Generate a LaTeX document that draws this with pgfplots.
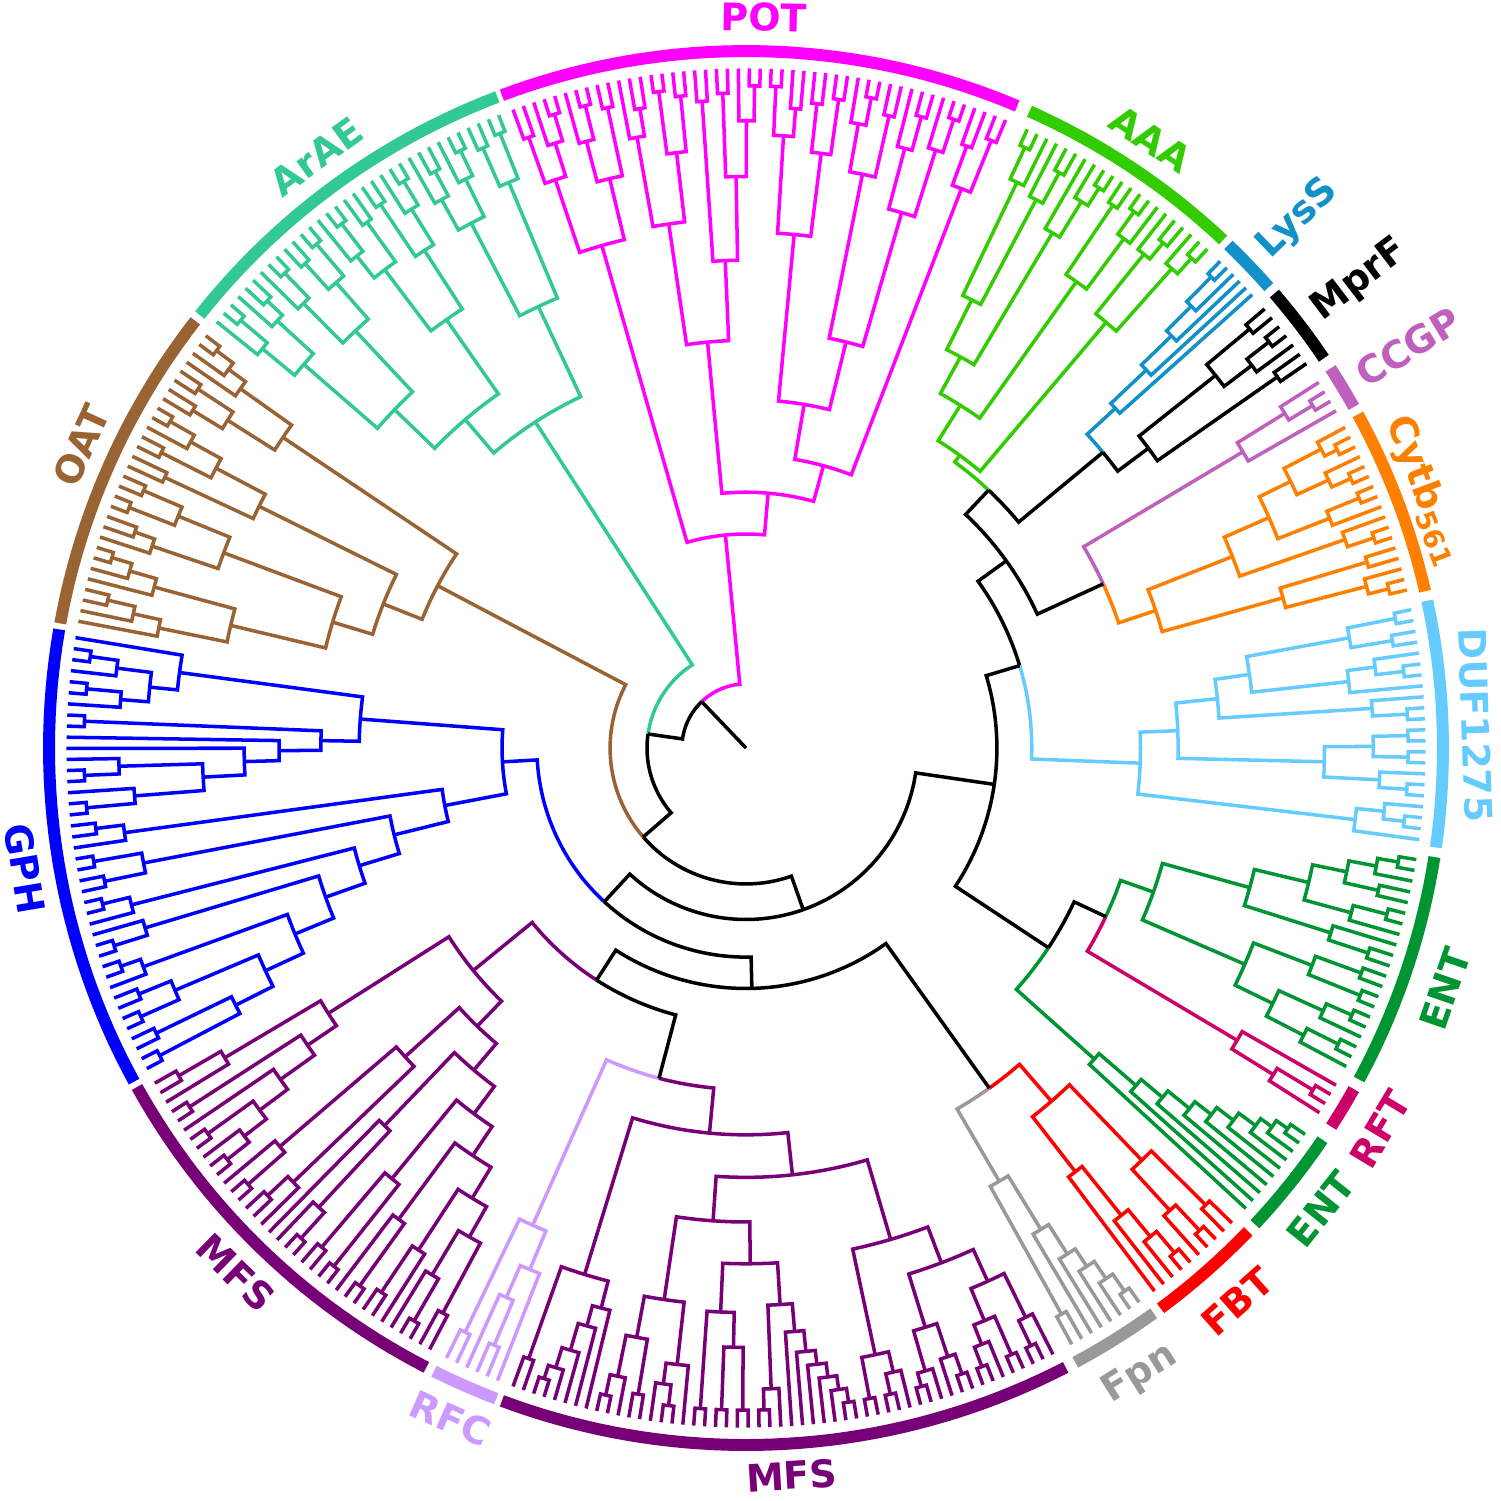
\documentclass[border=0pt]{standalone}
\usepackage{pgfplots}
\usepackage{pgfplotstable}
\pgfplotsset{compat=1.18}
\usepgfplotslibrary{polar}
\usepackage{fontspec}
\setmainfont{DejaVu Sans}

\definecolor{cPOT}{RGB}{255,0,255}
\definecolor{cArAE}{RGB}{51,201,150}
\definecolor{cOAT}{RGB}{153,99,51}
\definecolor{cGPH}{RGB}{0,0,255}
\definecolor{cMFS}{RGB}{119,0,119}
\definecolor{cRFC}{RGB}{204,153,255}
\definecolor{cFpn}{RGB}{153,153,153}
\definecolor{cFBT}{RGB}{255,0,0}
\definecolor{cENT}{RGB}{0,148,51}
\definecolor{cRFT}{RGB}{204,0,102}
\definecolor{cDUF}{RGB}{102,204,255}
\definecolor{cCyt}{RGB}{255,128,0}
\definecolor{cCCGP}{RGB}{191,96,191}
\definecolor{cMprF}{RGB}{0,0,0}
\definecolor{cLys}{RGB}{17,145,200}
\definecolor{cAAA}{RGB}{51,204,0}

% ---- tree data: each row = push n leaves, then join the top k items at radius r
\pgfplotstableread{
n k r
2 2 0.94
2 2 0.92
0 2 0.86
2 2 0.95
1 2 0.90
2 2 0.94
1 2 0.89
0 2 0.80
2 2 0.93
2 2 0.95
1 2 0.91
0 2 0.84
0 2 0.60
2 2 0.94
2 2 0.93
0 2 0.86
2 2 0.92
2 2 0.95
0 2 0.88
0 2 0.74
0 2 0.50
0 2 0.42
2 2 0.95
1 2 0.90
2 2 0.94
0 2 0.82
2 2 0.93
0 2 0.70
2 2 0.94
2 2 0.95
0 2 0.86
2 2 0.93
1 2 0.89
0 2 0.76
0 2 0.585
0 2 0.367
2 2 0.94
2 2 0.95
1 2 0.90
0 2 0.84
2 2 0.95
1 2 0.91
2 2 0.93
0 2 0.86
0 2 0.75
0 2 0.307
}\tPOT
\pgfplotstableread{
n k r
2 2 0.95
2 2 0.94
0 2 0.88
2 2 0.95
1 2 0.91
2 2 0.94
1 2 0.90
0 2 0.85
0 2 0.70
2 2 0.95
1 2 0.91
2 2 0.94
0 2 0.85
2 2 0.93
2 2 0.95
1 2 0.90
0 2 0.86
0 2 0.75
2 2 0.95
2 2 0.94
0 2 0.89
2 2 0.95
1 2 0.90
0 2 0.82
2 2 0.94
1 2 0.91
2 2 0.95
1 2 0.90
0 2 0.84
0 2 0.70
0 2 0.62
0 2 0.557
}\tArAE
\pgfplotstableread{
n k r
2 2 0.95
1 2 0.92
1 2 0.89
2 2 0.94
2 2 0.93
0 2 0.88
0 2 0.80
2 2 0.95
1 2 0.91
2 2 0.94
0 2 0.86
2 2 0.92
0 2 0.78
2 2 0.94
2 2 0.95
0 2 0.88
2 2 0.93
1 2 0.90
0 2 0.80
2 2 0.95
1 2 0.92
1 2 0.88
2 2 0.94
1 2 0.90
1 2 0.86
0 2 0.76
0 2 0.62
0 2 0.56
0 2 0.50
}\tOAT
\pgfplotstableread{
n k r
1 0 0
2 2 0.95
1 2 0.91
2 2 0.95
1 2 0.90
0 2 0.86
0 2 0.82
2 2 0.95
3 0 0
2 2 0.95
0 2 0.90
1 0 0
2 2 0.95
0 2 0.88
0 2 0.78
0 2 0.72
0 2 0.67
0 2 0.61
0 2 0.555
2 2 0.94
1 2 0.90
2 2 0.95
2 2 0.94
0 2 0.88
2 2 0.95
1 2 0.91
1 0 0
2 2 0.95
0 2 0.90
2 2 0.95
1 2 0.92
2 2 0.94
2 2 0.95
0 2 0.89
2 2 0.94
2 2 0.95
0 2 0.82
0 2 0.76
0 2 0.70
0 2 0.64
0 2 0.58
0 2 0.52
0 2 0.44
0 2 0.35
}\tGPH
\pgfplotstableread{
n k r
2 2 0.94
1 2 0.87
2 2 0.95
1 0 0
2 2 0.95
1 0 0
2 2 0.95
0 2 0.91
0 2 0.87
0 2 0.82
0 2 0.76
0 2 0.71
1 0 0
2 2 0.95
0 2 0.88
2 2 0.94
1 2 0.90
0 2 0.66
2 0 0
2 2 0.95
0 2 0.90
0 2 0.75
2 2 0.94
2 2 0.95
0 2 0.80
1 0 0
2 2 0.95
0 2 0.84
2 2 0.94
1 2 0.86
1 0 0
2 2 0.95
0 2 0.88
2 2 0.92
0 2 0.806
0 2 0.756
0 2 0.704
0 2 0.654
0 2 0.605
0 2 0.555
0 2 0.505
}\tMFSl
\pgfplotstableread{
n k r
2 2 0.93
1 0 0
2 2 0.93
0 2 0.86
1 2 0.81
0 2 0.75
}\tRFC
\pgfplotstableread{
n k r
2 2 0.93
2 2 0.95
1 2 0.93
1 2 0.90
1 2 0.86
1 2 0.83
0 2 0.79
2 2 0.95
1 2 0.92
2 2 0.94
0 2 0.86
1 0 0
2 2 0.95
0 2 0.92
1 2 0.89
0 2 0.80
2 2 0.95
2 2 0.95
2 2 0.95
0 2 0.86
0 2 0.81
2 2 0.95
1 2 0.92
5 0 0
2 2 0.95
0 2 0.93
0 2 0.91
0 2 0.89
0 2 0.87
0 2 0.84
0 2 0.80
0 2 0.74
0 2 0.68
2 2 0.95
2 2 0.95
1 2 0.92
0 2 0.89
2 2 0.95
1 2 0.93
1 0 0
2 2 0.95
0 2 0.92
0 2 0.87
2 2 0.95
1 2 0.92
2 2 0.95
0 2 0.89
2 2 0.95
1 2 0.91
0 2 0.84
0 2 0.79
0 2 0.735
0 2 0.616
0 2 0.555
}\tMFSb
\pgfplotstableread{
n k r
2 2 0.93
4 0 0
2 2 0.95
0 2 0.92
0 2 0.89
0 2 0.86
0 2 0.81
0 2 0.72
}\tFpn
\pgfplotstableread{
n k r
3 0 0
2 2 0.95
0 2 0.91
0 2 0.86
0 2 0.77
1 0 0
2 2 0.95
0 2 0.90
2 2 0.93
0 2 0.82
0 2 0.67
}\tFBT
\pgfplotstableread{
n k r
8 0 0
2 2 0.95
0 2 0.93
0 2 0.91
0 2 0.88
0 2 0.85
0 2 0.82
0 2 0.78
0 2 0.74
0 2 0.67
}\tENTb
\pgfplotstableread{
n k r
1 0 0
2 2 0.95
0 2 0.89
1 2 0.82
}\tRFT
\pgfplotstableread{
n k r
1 0 0
2 2 0.95
0 2 0.90
1 0 0
2 2 0.95
0 2 0.91
0 2 0.84
2 2 0.95
2 2 0.94
0 2 0.87
0 2 0.78
2 2 0.94
1 2 0.88
1 0 0
2 2 0.95
0 2 0.90
2 2 0.93
1 0 0
2 2 0.95
0 2 0.92
0 2 0.88
0 2 0.83
0 2 0.75
0 2 0.62
}\tENTa
\pgfplotstableread{
n k r
1 0 0
2 2 0.95
1 2 0.92
0 2 0.88
2 2 0.95
1 2 0.91
2 2 0.95
2 2 0.95
0 2 0.90
0 2 0.83
2 2 0.95
1 2 0.90
1 0 0
2 2 0.95
1 2 0.91
0 2 0.87
2 2 0.94
2 2 0.95
0 2 0.88
0 2 0.73
0 2 0.68
0 2 0.62
0 2 0.566
}\tDUF
\pgfplotstableread{
n k r
2 2 0.95
1 2 0.92
2 2 0.93
0 2 0.80
2 2 0.95
1 2 0.91
1 0 0
2 2 0.95
0 2 0.90
2 2 0.95
1 2 0.92
2 2 0.95
1 2 0.93
0 2 0.87
0 2 0.82
0 2 0.75
0 2 0.62
}\tCyt
\pgfplotstableread{
n k r
1 0 0
2 2 0.95
1 2 0.91
0 2 0.83
}\tCCGP
\pgfplotstableread{
n k r
2 2 0.93
1 0 0
2 2 0.95
0 2 0.91
2 2 0.94
0 2 0.86
0 2 0.72
}\tMprF
\pgfplotstableread{
n k r
4 0 0
2 2 0.95
0 2 0.90
0 2 0.85
0 2 0.79
0 2 0.72
}\tLys
\pgfplotstableread{
n k r
2 2 0.95
1 2 0.92
2 2 0.94
1 2 0.91
0 2 0.80
1 0 0
2 2 0.95
0 2 0.91
2 2 0.94
0 2 0.82
2 2 0.95
1 2 0.92
1 2 0.86
2 2 0.94
1 2 0.89
1 0 0
2 2 0.95
0 2 0.90
0 2 0.72
0 2 0.64
0 2 0.58
0 2 0.52
}\tAAA

% ---- drawing engine (stack of subtrees: angle, radius, colour)
\newcount\mystk \global\mystk=0
\newcount\myci
\newcount\myarck
\newcount\myleafi
\newcount\myleafj
\newcount\myleafcount
\newcount\myrow
\def\tipR{0.975}
\def\coordlist{}
\def\stkpush#1#2#3{%
  \global\advance\mystk by 1\relax
  \expandafter\xdef\csname stA\the\mystk\endcsname{#1}%
  \expandafter\xdef\csname stR\the\mystk\endcsname{#2}%
  \expandafter\xdef\csname stC\the\mystk\endcsname{#3}%
}
\def\getA#1{\csname stA\number#1\endcsname}
\def\getR#1{\csname stR\number#1\endcsname}
\def\getC#1{\csname stC\number#1\endcsname}
\def\addarc#1#2#3{{%
  \pgfmathsetmacro\myarcd{(#2)-(#1)}%
  \pgfmathtruncatemacro\myarcn{max(1,ceil(abs(\myarcd)/1.2))}%
  \myarck=0\relax
  \loop
    \advance\myarck by 1\relax
    \pgfmathsetmacro\myarca{(#1)+(\myarcd)*\the\myarck/\myarcn}%
    \xdef\coordlist{\coordlist(\myarca,#3)}%
  \ifnum\myarck<\myarcn\relax\repeat
}}
\def\dojoin#1#2{{%
  \myci=\mystk \advance\myci by -#1\relax \advance\myci by 1\relax
  \edef\myjf{\the\myci}%
  \edef\myjl{\the\mystk}%
  \edef\myjAf{\getA{\myjf}}%
  \edef\myjAl{\getA{\myjl}}%
  \pgfmathsetmacro\myjm{((\myjAf)+(\myjAl))/2}%
  \edef\myjr{#2}%
  \edef\myjc{\getC{\myjf}}%
  \def\myjsame{1}%
  \myci=\myjf\relax
  \loop
    \advance\myci by 1\relax
    \edef\mytc{\getC{\myci}}%
    \ifx\mytc\myjc\else\def\myjsame{0}\fi
  \ifnum\myci<\myjl\relax\repeat
  \if1\myjsame
    \xdef\coordlist{(\myjAf,\getR{\myjf})(\myjAf,\myjr)}%
    \myci=\myjf\relax
    \loop
      \advance\myci by 1\relax
      \edef\myprevA{\getA{\numexpr\myci-1\relax}}%
      \edef\mycurA{\getA{\myci}}%
      \addarc{\myprevA}{\mycurA}{\myjr}%
      \xdef\coordlist{\coordlist(\mycurA,\getR{\myci})(\mycurA,\myjr)}%
    \ifnum\myci<\myjl\relax\repeat
    \edef\mytmp{\noexpand\addplot[treeline,draw=\myjc] coordinates {\coordlist};}\mytmp
    \xdef\mynodecol{\myjc}%
  \else
    \myci=\myjf\relax
    \advance\myci by -1\relax
    \loop
      \advance\myci by 1\relax
      \edef\mycurA{\getA{\myci}}%
      \xdef\coordlist{(\mycurA,\getR{\myci})(\mycurA,\myjr)}%
      \addarc{\mycurA}{\myjm}{\myjr}%
      \edef\mytmp{\noexpand\addplot[treeline,draw=\getC{\myci}] coordinates {\coordlist};}\mytmp
    \ifnum\myci<\myjl\relax\repeat
    \xdef\mynodecol{black}%
  \fi
  \global\mystk=\myjf\relax
  \global\advance\mystk by -1\relax
  \stkpush{\myjm}{\myjr}{\mynodecol}%
}}
\def\pushleaves#1{{%
  \myleafj=0\relax
  \loop\ifnum\myleafj<#1\relax
    \pgfmathsetmacro\myla{\clfirst+\clsp*\the\myleafi}%
    \stkpush{\myla}{\tipR}{\clcol}%
    \global\advance\myleafi by 1\relax
    \advance\myleafj by 1\relax
  \repeat
}}
\def\processclade#1#2#3#4{%
  \global\myleafcount=0\relax
  \pgfplotstableforeachcolumnelement{n}\of#1\as\mycell{\global\advance\myleafcount by \mycell\relax}%
  \pgfmathsetmacro\clsp{((#4)-(#3))/(\the\myleafcount-1)}%
  \def\clfirst{#3}\def\clcol{#2}%
  \global\myleafi=0\relax
  \pgfplotstablegetrowsof{#1}\edef\clrows{\pgfplotsretval}%
  \myrow=0\relax
  \loop
    {\pgfplotstablegetelem{\the\myrow}{n}\of{#1}\xdef\myrn{\pgfplotsretval}}%
    {\pgfplotstablegetelem{\the\myrow}{k}\of{#1}\xdef\myrk{\pgfplotsretval}}%
    {\pgfplotstablegetelem{\the\myrow}{r}\of{#1}\xdef\myrr{\pgfplotsretval}}%
    \pushleaves{\myrn}%
    \ifnum\myrk>0 \dojoin{\myrk}{\myrr}\fi
    \advance\myrow by 1\relax
  \ifnum\myrow<\clrows\relax\repeat
}
\def\ringarc#1#2#3{%
  \xdef\coordlist{(#2,1)}%
  \addarc{#2}{#3}{1}%
  \edef\mytmp{\noexpand\addplot[ringline,draw=#1] coordinates {\coordlist};}\mytmp
}

\pgfplotsset{
  treeline/.style={mark=none, line width=1.0pt},
  ringline/.style={mark=none, line width=3.4pt},
}
\tikzset{lab/.style={font=\bfseries\fontsize{10.8}{12}\selectfont, inner sep=0pt}}

\begin{document}
\begin{tikzpicture}
\begin{axis}[
  x=6.97cm, y=6.97cm,
  xmin=-1.0703, xmax=1.0818, ymin=-1.0803, ymax=1.0732,
  hide axis, clip=false, data cs=polar,
]
\path (axis cs:-1.0703,-1.0803) rectangle (axis cs:1.0818,1.0732);
% clades in counter-clockwise leaf order, joined by the black backbone
\processclade{\tPOT}{cPOT}{67.55}{110.05}
\processclade{\tArAE}{cArAE}{111.35}{141.15}
\processclade{\tOAT}{cOAT}{142.65}{169.25}
\processclade{\tGPH}{cGPH}{170.65}{208.15}
\processclade{\tMFSl}{cMFS}{209.55}{242.25}
\processclade{\tRFC}{cRFC}{243.85}{248.55}
\processclade{\tMFSb}{cMFS}{249.95}{296.85}
\dojoin{2}{0.49}
\dojoin{2}{0.396}
\processclade{\tFpn}{cFpn}{298.65}{305.35}
\processclade{\tFBT}{cFBT}{306.95}{315.65}
\dojoin{2}{0.60}
\dojoin{2}{0.345}
\dojoin{2}{0.30}
\processclade{\tENTb}{cENT}{317.35}{325.35}
\processclade{\tRFT}{cRFT}{327.55}{330.25}
\processclade{\tENTa}{cENT}{332.05}{350.55}
\dojoin{2}{0.57}
\dojoin{2}{0.52}
\processclade{\tDUF}{cDUF}{352.25}{371.75}
\processclade{\tCyt}{cCyt}{373.45}{388.15}
\processclade{\tCCGP}{cCCGP}{389.75}{392.55}
\dojoin{2}{0.564}
\processclade{\tMprF}{cMprF}{394.45}{400.25}
\processclade{\tLys}{cLys}{401.85}{405.75}
\dojoin{2}{0.665}
\processclade{\tAAA}{cAAA}{407.25}{425.55}
\dojoin{2}{0.508}
\dojoin{2}{0.46}
\dojoin{2}{0.41}
\dojoin{2}{0.36}
\dojoin{2}{0.246}
\dojoin{2}{0.195}
\dojoin{2}{0.142}
\dojoin{2}{0.092}
\edef\myrootA{\getA{1}}%
\edef\mytmp{\noexpand\addplot[treeline,draw=black] coordinates {(\myrootA,0.092)(\myrootA,0)};}\mytmp
% outer ring
\ringarc{cPOT}{67.1}{110.5}
\ringarc{cArAE}{110.9}{141.6}
\ringarc{cOAT}{142.2}{169.7}
\ringarc{cGPH}{170.2}{208.6}
\ringarc{cMFS}{209.1}{242.7}
\ringarc{cRFC}{243.4}{249.0}
\ringarc{cMFS}{249.5}{297.3}
\ringarc{cFpn}{298.2}{305.8}
\ringarc{cFBT}{306.5}{316.1}
\ringarc{cENT}{316.9}{325.8}
\ringarc{cRFT}{327.1}{330.7}
\ringarc{cENT}{331.6}{351.0}
\ringarc{cDUF}{351.8}{372.2}
\ringarc{cCyt}{373.0}{388.6}
\ringarc{cCCGP}{389.3}{393.0}
\ringarc{cMprF}{394.0}{400.7}
\ringarc{cLys}{401.4}{406.2}
\ringarc{cAAA}{406.8}{426.0}
% labels
\node[lab,text=cPOT,rotate=-1.4] at ([shift={(88.6:7.31cm)}]axis cs:0,0) {POT};
\node[lab,text=cAAA,rotate=-33.6] at ([shift={(56.4:7.31cm)}]axis cs:0,0) {AAA};
\node[lab,text=cArAE,rotate=36] at ([shift={(126:7.31cm)}]axis cs:0,0) {ArAE};
\node[lab,text=cOAT,rotate=65.5] at ([shift={(155.5:7.30cm)}]axis cs:0,0) {OAT};
\node[lab,text=cGPH,rotate=-80.5] at ([shift={(189.5:7.31cm)}]axis cs:0,0) {GPH};
\node[lab,text=cMFS,rotate=-44.2] at ([shift={(225.8:7.32cm)}]axis cs:0,0) {MFS};
\node[lab,text=cRFC,rotate=-23.8] at ([shift={(246.2:7.33cm)}]axis cs:0,0) {RFC};
\node[lab,text=cMFS,rotate=3.6] at ([shift={(273.6:7.29cm)}]axis cs:0,0) {MFS};
\node[lab,text=cFpn,rotate=32.2] at ([shift={(302.2:7.40cm)}]axis cs:0,0) {Fpn};
\node[lab,text=cFBT,rotate=41.6] at ([shift={(311.6:7.40cm)}]axis cs:0,0) {FBT};
\node[lab,text=cENT,rotate=51.3] at ([shift={(321.3:7.37cm)}]axis cs:0,0) {ENT};
\node[lab,text=cRFT,rotate=59] at ([shift={(329:7.40cm)}]axis cs:0,0) {RFT};
\node[lab,text=cENT,rotate=71] at ([shift={(341:7.39cm)}]axis cs:0,0) {ENT};
\node[lab,text=cDUF,rotate=-88.2] at ([shift={(1.8:7.30cm)}]axis cs:0,0) {DUF1275};
\node[lab,text=cCyt,rotate=-69.2] at ([shift={(20.8:7.25cm)}]axis cs:0,0) {Cytb\raisebox{-0.35ex}{\fontsize{7.8}{8}\selectfont 561}};
\node[lab,text=cCCGP,rotate=31.2,anchor=west] at ([shift={(31.2:7.16cm)}]axis cs:0,0) {CCGP};
\node[lab,text=cMprF,rotate=37.3,anchor=west] at ([shift={(37.3:7.16cm)}]axis cs:0,0) {MprF};
\node[lab,text=cLys,rotate=43.8,anchor=west] at ([shift={(43.8:7.16cm)}]axis cs:0,0) {LysS};
\end{axis}
\end{tikzpicture}
\end{document}
